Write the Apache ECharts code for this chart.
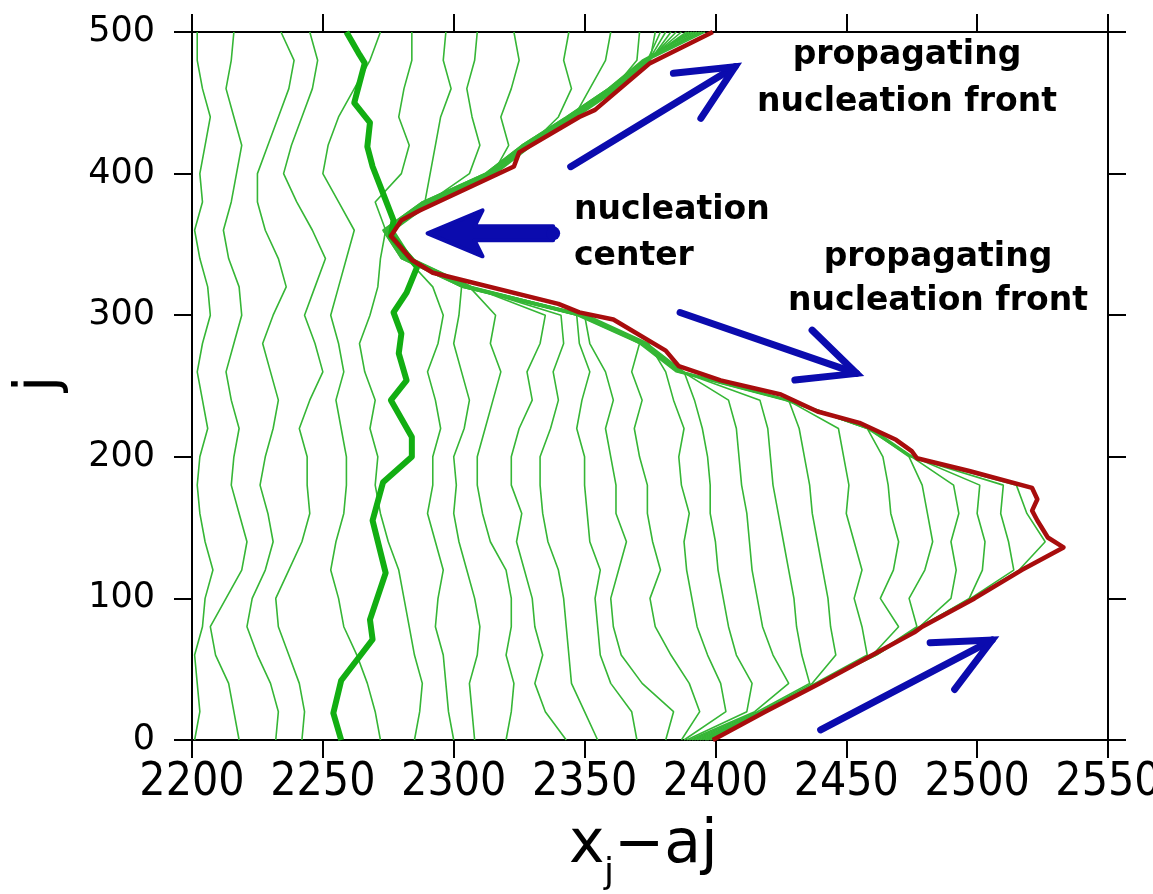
<!DOCTYPE html>
<html>
<head>
<meta charset="utf-8">
<title>nucleation front</title>
<script src="https://cdn.jsdelivr.net/npm/echarts@6/dist/echarts.min.js"></script>
<style>
html, body { margin: 0; padding: 0; background: #fff; }
#main { width: 1153px; height: 894px; }
</style>
</head>
<body>
<div id="main"></div>
<script>
// j values shared by all the thin lines (x_j - aj read at every 20 j)
const jGrid = [0, 20, 40, 60, 80, 100, 120, 140, 160, 180, 200, 220, 240, 260, 280, 300, 320, 340, 360, 380, 400, 420, 440, 460, 480, 500]

// thin green lines, left to right
const line01 = [2201, 2203, 2202, 2201, 2204, 2205, 2208, 2205, 2203, 2202, 2203, 2206, 2204, 2202, 2204, 2207, 2206, 2203, 2201, 2204, 2203, 2205, 2207, 2204, 2202, 2202]
const line02 = [2218, 2216, 2214, 2209, 2207, 2213, 2219, 2221, 2218, 2215, 2216, 2218, 2215, 2213, 2216, 2219, 2218, 2214, 2212, 2215, 2217, 2219, 2216, 2213, 2215, 2216]
const line03 = [2232, 2233, 2230, 2225, 2221, 2223, 2228, 2231, 2229, 2226, 2228, 2231, 2233, 2230, 2227, 2231, 2236, 2233, 2228, 2225, 2225, 2229, 2233, 2237, 2239, 2234]
const line04 = [2242, 2243, 2241, 2237, 2233, 2232, 2237, 2242, 2245, 2244, 2244, 2241, 2245, 2250, 2247, 2243, 2247, 2251, 2246, 2240, 2235, 2238, 2242, 2246, 2248, 2245]
const line05 = [2272, 2270, 2267, 2263, 2258, 2256, 2253, 2255, 2258, 2259, 2259, 2257, 2255, 2258, 2256, 2253, 2256, 2259, 2262, 2256, 2250, 2252, 2256, 2262, 2268, 2272]
const line06 = [2285, 2287, 2288, 2285, 2283, 2281, 2279, 2275, 2272, 2270, 2271, 2268, 2270, 2266, 2264, 2268, 2271, 2272, 2274, 2270, 2280, 2283, 2279, 2281, 2284, 2284]
const line07 = [2300, 2298, 2297, 2296, 2293, 2294, 2296, 2293, 2290, 2292, 2292, 2295, 2293, 2290, 2294, 2296, 2292, 2282, 2275, 2289, 2291, 2293, 2295, 2299, 2296, 2297]
const line08 = [2308, 2307, 2306, 2309, 2310, 2308, 2305, 2302, 2300, 2301, 2300, 2304, 2306, 2303, 2300, 2302, 2303, 2283, 2275.5, 2290.5, 2306, 2310, 2307, 2305, 2308, 2309]
const line09 = [2320, 2322, 2323, 2320, 2322, 2322, 2320, 2314, 2311, 2309, 2309, 2312, 2315, 2318, 2314, 2316, 2306, 2283, 2276, 2291, 2315, 2321, 2318, 2322, 2325, 2323]
const line10 = [2343, 2335, 2331, 2334, 2331, 2330, 2327, 2324, 2326, 2322, 2322, 2325, 2330, 2328, 2333, 2335, 2307, 2283.5, 2276.5, 2291.5, 2315.5, 2329, 2340, 2345, 2342, 2344]
const line11 = [2355, 2350, 2345, 2344, 2343, 2342, 2340, 2336, 2334, 2333, 2333, 2337, 2340, 2338, 2342, 2341, 2306, 2283, 2276, 2291, 2315, 2329.5, 2346, 2352, 2358, 2360]
const line12 = [2370, 2368, 2360, 2356, 2355, 2354, 2356, 2352, 2351, 2350, 2350, 2347, 2349, 2352, 2348, 2347, 2305.5, 2282.5, 2275.5, 2290.5, 2314.5, 2329, 2345.5, 2361, 2370, 2371]
const line13 = [2381, 2384, 2372, 2364, 2361, 2360, 2363, 2366, 2362, 2362, 2360, 2358, 2361, 2358, 2352, 2350, 2307, 2284, 2277, 2292, 2316, 2330, 2347, 2363, 2375, 2377]
const line14 = [2387, 2394, 2390, 2383, 2377, 2375, 2379, 2376, 2374, 2374, 2371, 2369, 2372, 2368, 2371, 2350.5, 2306.5, 2283.5, 2276.5, 2291.5, 2315.5, 2329.5, 2346.5, 2362.5, 2374, 2379]
const line15 = [2388, 2404, 2402, 2397, 2393, 2391, 2389, 2388, 2390, 2387, 2386, 2388, 2384, 2381, 2374.5, 2351, 2306, 2283, 2276, 2291, 2315, 2329, 2346, 2362, 2374.5, 2381]
const line16 = [2389, 2412, 2414, 2408, 2405, 2403, 2401, 2400, 2398, 2398, 2397, 2395, 2392, 2388, 2374, 2350, 2305.5, 2282.5, 2275.5, 2290.5, 2314.5, 2328.5, 2345.5, 2361.5, 2375, 2383]
const line17 = [2390, 2415, 2428, 2422, 2418, 2416, 2414, 2413, 2412, 2410, 2409, 2408, 2405, 2387.5, 2373.5, 2349.5, 2305, 2282, 2275, 2290, 2314, 2328, 2345, 2361, 2374.5, 2385]
const line18 = [2391, 2416, 2436, 2433, 2431, 2430, 2428, 2426, 2424, 2422, 2421, 2420, 2417, 2387, 2373, 2349, 2304.5, 2281.5, 2274.5, 2289.5, 2313.5, 2327.5, 2344.5, 2360.5, 2374, 2387]
const line19 = [2392, 2417, 2437, 2446, 2444, 2443, 2441, 2439, 2437, 2436, 2434, 2432, 2428, 2386.5, 2372.5, 2348.5, 2304, 2281, 2274, 2289, 2313, 2327, 2344, 2360, 2373.5, 2389]
const line20 = [2393, 2418, 2438, 2458, 2456, 2453, 2456, 2453, 2450, 2451, 2449, 2447, 2427.5, 2386, 2372, 2348, 2303.5, 2280.5, 2273.5, 2288.5, 2312.5, 2326.5, 2343.5, 2359.5, 2373, 2390]
const line21 = [2394, 2418, 2438.5, 2460, 2470, 2463, 2468, 2470, 2467, 2466, 2464, 2458, 2427, 2385.5, 2371.5, 2347.5, 2303, 2280, 2273, 2288, 2312, 2326, 2343, 2359, 2372.5, 2391]
const line22 = [2395, 2418, 2439, 2460.5, 2477, 2474, 2480, 2483, 2481, 2479, 2474, 2458.5, 2426.5, 2385, 2371, 2347, 2303, 2280, 2273, 2288, 2312, 2326, 2343, 2359, 2372, 2392]
const line23 = [2396, 2418, 2439.5, 2461, 2478, 2490, 2492, 2490, 2493, 2491, 2475, 2459, 2428, 2386, 2372, 2348, 2304, 2281, 2274, 2289, 2313, 2327, 2344, 2360, 2373, 2393]
const line24 = [2396.5, 2418, 2439, 2461.5, 2478.5, 2497, 2502, 2503, 2500, 2501, 2475.5, 2459.5, 2428.5, 2387, 2373, 2349, 2305, 2281.5, 2274.5, 2289.5, 2313.5, 2327.5, 2344.5, 2360.5, 2373.5, 2394]
const line25 = [2397, 2418, 2439, 2461, 2478, 2497.5, 2514, 2512, 2509, 2510, 2474.5, 2458, 2427.5, 2386.5, 2372.5, 2348.5, 2304.5, 2281, 2274, 2289, 2313, 2327, 2344, 2360, 2373, 2395]
const line26 = [2398, 2418.5, 2439.5, 2461.5, 2478.5, 2498, 2516, 2526, 2519, 2515, 2475, 2459, 2428, 2387.5, 2373.5, 2349.5, 2306, 2282, 2275, 2290, 2314, 2328, 2345, 2361, 2374, 2396]

// thick green line
const thickJ = [0, 19, 42, 71, 85, 118, 155, 182, 200, 214, 240, 254, 273, 287, 302, 316, 334, 339, 356, 367, 386, 405, 419, 436, 450, 478, 484, 500]
const thickX = [2257, 2254, 2257, 2269, 2268, 2274, 2269, 2273, 2284, 2284, 2276, 2282, 2279, 2280, 2277, 2282, 2286, 2284, 2276, 2277, 2273, 2269, 2267, 2268, 2262, 2266, 2264, 2259]

// red nucleation front
const redJ = [0, 20, 40, 60, 76, 80, 100, 120, 136, 143, 155, 162, 170, 178, 190, 199, 204, 212, 224, 232, 244, 254, 264, 275, 297, 302, 308, 330, 339, 356, 367, 374, 405, 415, 440, 445, 478, 500]
const redX = [2399, 2419, 2440, 2460, 2476, 2479, 2499, 2517, 2533, 2527, 2523, 2521, 2523, 2521, 2497, 2477, 2475, 2469, 2455, 2439, 2425, 2402, 2386, 2381, 2361, 2348, 2340, 2292, 2284, 2276, 2280, 2287, 2323, 2325, 2348, 2354, 2375, 2399]

// blue arrows: [x start, j start, x end, j end]
const openArrows = [
    [2344.7, 404.9, 2407.5, 475.5],
    [2386.5, 301.9, 2453.9, 258.9],
    [2440.2, 7.1, 2505.7, 70.6],
]
const centerArrow = [[2338, 357.8, 2290, 357.8]]

const thinLines = [line01, line02, line03, line04, line05, line06, line07, line08, line09, line10, line11, line12, line13,
    line14, line15, line16, line17, line18, line19, line20, line21, line22, line23, line24, line25, line26]

const chart = echarts.init(document.getElementById('main'))

const arrowBlue = '#0b0bae'

function drawOpenArrow(params, api) {
    const p0 = api.coord([api.value(0), api.value(1)])
    const p1 = api.coord([api.value(2), api.value(3)])
    const ang = Math.atan2(p0[1] - p1[1], p0[0] - p1[0])
    const len = 62,
        spread = 0.44
    const a1 = [p1[0] + len * Math.cos(ang + spread), p1[1] + len * Math.sin(ang + spread)]
    const a2 = [p1[0] + len * Math.cos(ang - spread), p1[1] + len * Math.sin(ang - spread)]
    const style = { stroke: arrowBlue, lineWidth: 7, lineCap: 'round', lineJoin: 'miter', fill: null }
    return {
        type: 'group',
        children: [
            { type: 'polyline', shape: { points: [p0, p1] }, style: style },
            { type: 'polyline', shape: { points: [a1, p1, a2] }, style: style },
        ],
    }
}

function drawCenterArrow(params, api) {
    const tail = api.coord([api.value(0), api.value(1)])
    const tip = api.coord([api.value(2), api.value(3)])
    const x = tip[0],
        y = tip[1]
    return {
        type: 'group',
        children: [
            {
                type: 'polygon',
                shape: {
                    points: [[x, y], [x + 55, y - 23], [x + 47, y - 7], [tail[0], y - 7], [tail[0], y + 7], [x + 47, y + 7], [x + 55, y + 23]],
                },
                style: { fill: arrowBlue, stroke: arrowBlue, lineWidth: 4, lineJoin: 'round' },
            },
            { type: 'circle', shape: { cx: tail[0], cy: y, r: 7 }, style: { fill: arrowBlue } },
        ],
    }
}

const series = thinLines.map((xs) => ({
    type: 'line',
    data: xs.map((x, i) => [x, jGrid[i]]),
    symbol: 'none',
    silent: true,
    lineStyle: { color: '#36b636', width: 1.6 },
    z: 2,
}))

series.push({
    type: 'line',
    data: thickX.map((x, i) => [x, thickJ[i]]),
    symbol: 'none',
    silent: true,
    lineStyle: { color: '#12ae12', width: 6, join: 'round' },
    z: 3,
})
series.push({
    type: 'line',
    data: redX.map((x, i) => [x, redJ[i]]),
    symbol: 'none',
    silent: true,
    lineStyle: { color: '#a80d0d', width: 4.5, join: 'round' },
    z: 4,
})
series.push({
    type: 'custom',
    data: openArrows,
    encode: { x: [0, 2], y: [1, 3] },
    renderItem: drawOpenArrow,
    silent: true,
    clip: false,
    z: 5,
})
series.push({
    type: 'custom',
    data: centerArrow,
    encode: { x: [0, 2], y: [1, 3] },
    renderItem: drawCenterArrow,
    silent: true,
    clip: false,
    z: 5,
})

const boldText = 'bold 33px "DejaVu Sans", sans-serif'
const frameLine = { onZero: false, lineStyle: { color: '#000', width: 2 } }
const frameTick = { length: 18, lineStyle: { color: '#000', width: 2 } }

const option = {
    animation: false,
    backgroundColor: '#fff',
    grid: { left: 192, right: 45, top: 32, bottom: 154, outerBoundsMode: 'none', containLabel: false },
    xAxis: [
        {
            type: 'value',
            min: 2200,
            max: 2550,
            interval: 50,
            position: 'bottom',
            splitLine: { show: false },
            axisLine: frameLine,
            axisTick: frameTick,
            axisLabel: {
                margin: 20,
                color: '#000',
                fontSize: 46,
                fontFamily: '"DejaVu Sans Condensed", "DejaVu Sans", sans-serif',
                showMaxLabel: true,
                formatter: (v) => String(v),
            },
        },
        {
            type: 'value',
            min: 2200,
            max: 2550,
            interval: 50,
            position: 'top',
            splitLine: { show: false },
            axisLine: frameLine,
            axisTick: frameTick,
            axisLabel: { show: false },
        },
    ],
    yAxis: [
        {
            type: 'value',
            min: 0,
            max: 500,
            interval: 100,
            position: 'left',
            splitLine: { show: false },
            axisLine: frameLine,
            axisTick: frameTick,
            axisLabel: {
                margin: 37,
                color: '#000',
                fontSize: 35,
                fontFamily: '"DejaVu Sans", sans-serif',
            },
        },
        {
            type: 'value',
            min: 0,
            max: 500,
            interval: 100,
            position: 'right',
            splitLine: { show: false },
            axisLine: frameLine,
            axisTick: frameTick,
            axisLabel: { show: false },
        },
    ],
    graphic: [
        {
            type: 'text',
            z: 10,
            style: {
                text: 'propagating\nnucleation front',
                x: 907,
                y: 32,
                align: 'center',
                verticalAlign: 'top',
                lineHeight: 47,
                font: boldText,
                fill: '#000',
            },
        },
        {
            type: 'text',
            z: 10,
            style: {
                text: 'nucleation\ncenter',
                x: 574,
                y: 187,
                align: 'left',
                verticalAlign: 'top',
                lineHeight: 46,
                font: boldText,
                fill: '#000',
            },
        },
        {
            type: 'text',
            z: 10,
            style: {
                text: 'propagating\nnucleation front',
                x: 938,
                y: 235,
                align: 'center',
                verticalAlign: 'top',
                lineHeight: 44,
                font: boldText,
                fill: '#000',
            },
        },
        // x-axis name: x_j - aj
        {
            type: 'text',
            style: { text: 'x', x: 569, y: 846, align: 'left', verticalAlign: 'middle', font: '60px "DejaVu Sans", sans-serif', fill: '#000' },
        },
        {
            type: 'text',
            style: { text: 'j', x: 604, y: 874, align: 'left', verticalAlign: 'middle', font: '36px "DejaVu Sans", sans-serif', fill: '#000' },
        },
        {
            type: 'text',
            style: { text: '\u2212aj', x: 614, y: 846, align: 'left', verticalAlign: 'middle', font: '60px "DejaVu Sans", sans-serif', fill: '#000' },
        },
        // y-axis name
        {
            type: 'text',
            x: 41,
            y: 384,
            rotation: Math.PI / 2,
            style: { text: 'j', x: 0, y: 0, align: 'center', verticalAlign: 'middle', font: '58px "DejaVu Sans", sans-serif', fill: '#000' },
        },
    ],
    series: series,
}

chart.setOption(option)
</script>
</body>
</html>
